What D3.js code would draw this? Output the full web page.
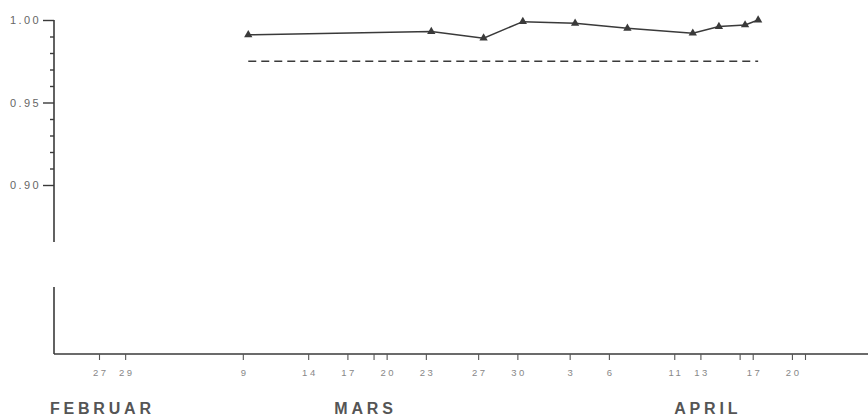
<!DOCTYPE html>
<html>
<head>
  <meta charset="utf-8">
  <script src="https://cdn.jsdelivr.net/npm/d3@7"></script>
  <style>
    body { margin: 0; background: #fff; }
    svg { display: block; font-family: "Liberation Sans", Arial, sans-serif; }
  </style>
</head>
<body>
  <div id="chart"></div>
  <script>
    // measured dates (1980, sampled late morning) and values
    const dates = ["1980-03-09 10:00", "1980-03-23 10:00", "1980-03-27 10:00", "1980-03-30 10:00",
                   "1980-04-03 10:00", "1980-04-07 10:00", "1980-04-12 10:00", "1980-04-14 10:00",
                   "1980-04-16 10:00", "1980-04-17 10:00"]
    const values = [0.991, 0.993, 0.989, 0.999, 0.998, 0.995, 0.992, 0.996, 0.997, 1.000]

    // dashed reference level
    const refValue = 0.975
    const refDates = ["1980-03-09 10:00", "1980-04-17 10:00"]

    const xTickDates = ["1980-02-27", "1980-02-29", "1980-03-09", "1980-03-14", "1980-03-17",
                        "1980-03-19", "1980-03-20", "1980-03-23", "1980-03-27", "1980-03-30",
                        "1980-04-03", "1980-04-06", "1980-04-11", "1980-04-13", "1980-04-16",
                        "1980-04-17", "1980-04-20", "1980-04-21"]
    const xTickLabels = ["27", "29", "9", "14", "17", "", "20", "23", "27", "30",
                         "3", "6", "11", "13", "", "17", "20", ""]

    const yMajorTicks = [0.90, 0.95, 1.00]
    const yMinorTicks = [0.91, 0.92, 0.93, 0.94, 0.96, 0.97, 0.98, 0.99]

    const months = ["FEBRUAR", "MARS", "APRIL"]
    const monthDates = ["1980-02-23 06:00", "1980-03-16", "1980-04-11"]

    const width = 868
    const height = 419
    const axisX = 54
    const axisY = 354
    const ink = "#3a3a3a"

    const parseDay = d3.timeParse("%Y-%m-%d")
    const parseTime = d3.timeParse("%Y-%m-%d %H:%M")
    const parse = s => parseTime(s) || parseDay(s)

    const x = d3.scaleTime()
      .domain([parse("1980-02-27"), parse("1980-04-21")])
      .range([99, 805])

    const y = d3.scaleLinear()
      .domain([0.90, 1.00])
      .range([185, 20])

    const svg = d3.select("#chart")
      .append("svg")
      .attr("width", width)
      .attr("height", height)

    // y axis, broken below 0.90
    svg.append("line")
      .attr("x1", axisX).attr("x2", axisX)
      .attr("y1", y(1.00)).attr("y2", y(0.8655))
      .attr("stroke", ink).attr("stroke-width", 1.6)
    svg.append("line")
      .attr("x1", axisX).attr("x2", axisX)
      .attr("y1", 287).attr("y2", axisY)
      .attr("stroke", ink).attr("stroke-width", 1.6)

    const yMajor = svg.append("g")
      .attr("transform", `translate(${axisX},0)`)
      .call(d3.axisLeft(y).tickValues(yMajorTicks).tickSize(11).tickPadding(2)
        .tickFormat(d3.format(".2f")))
    yMajor.select(".domain").remove()
    yMajor.selectAll("line").attr("stroke", ink).attr("stroke-width", 1.4)
    yMajor.selectAll("text").attr("fill", "#666").style("font-size", "11px")
      .style("letter-spacing", "2.4px")

    const yMinor = svg.append("g")
      .attr("transform", `translate(${axisX},0)`)
      .call(d3.axisLeft(y).tickValues(yMinorTicks).tickSize(4).tickFormat(""))
    yMinor.select(".domain").remove()
    yMinor.selectAll("line").attr("stroke", ink).attr("stroke-width", 1.4)

    // x axis
    svg.append("line")
      .attr("x1", axisX).attr("x2", width)
      .attr("y1", axisY).attr("y2", axisY)
      .attr("stroke", ink).attr("stroke-width", 1.4)

    const xAxis = svg.append("g")
      .attr("transform", `translate(0,${axisY})`)
      .call(d3.axisBottom(x).tickValues(xTickDates.map(parse)).tickSize(6).tickPadding(9)
        .tickFormat((d, i) => xTickLabels[i]))
    xAxis.select(".domain").remove()
    xAxis.selectAll("line").attr("stroke", "#555").attr("stroke-width", 1.1)
    xAxis.selectAll("text").attr("fill", "#888").style("font-size", "9.5px")
      .style("letter-spacing", "2.5px")
      .attr("dx", "1.2px")

    // month names
    svg.append("g")
      .selectAll("text")
      .data(months)
      .enter()
      .append("text")
      .attr("x", (d, i) => x(parse(monthDates[i])))
      .attr("y", 414)
      .attr("fill", "#555")
      .style("font-size", "16px")
      .style("font-weight", "bold")
      .style("letter-spacing", "3.8px")
      .text(d => d)

    // dashed level
    svg.append("line")
      .attr("x1", x(parse(refDates[0]))).attr("x2", x(parse(refDates[1])))
      .attr("y1", y(refValue)).attr("y2", y(refValue))
      .attr("stroke", ink).attr("stroke-width", 1.6)
      .attr("stroke-dasharray", "8,5")

    const points = dates.map((d, i) => ({ date: parse(d), value: values[i] }))

    svg.append("path")
      .datum(points)
      .attr("fill", "none")
      .attr("stroke", ink)
      .attr("stroke-width", 1.5)
      .attr("d", d3.line().x(d => x(d.date)).y(d => y(d.value)))

    svg.append("g")
      .selectAll("path")
      .data(points)
      .enter()
      .append("path")
      .attr("transform", d => `translate(${x(d.date)},${y(d.value)})`)
      .attr("d", d3.symbol().type(d3.symbolTriangle).size(30))
      .attr("fill", ink)
  </script>
</body>
</html>
